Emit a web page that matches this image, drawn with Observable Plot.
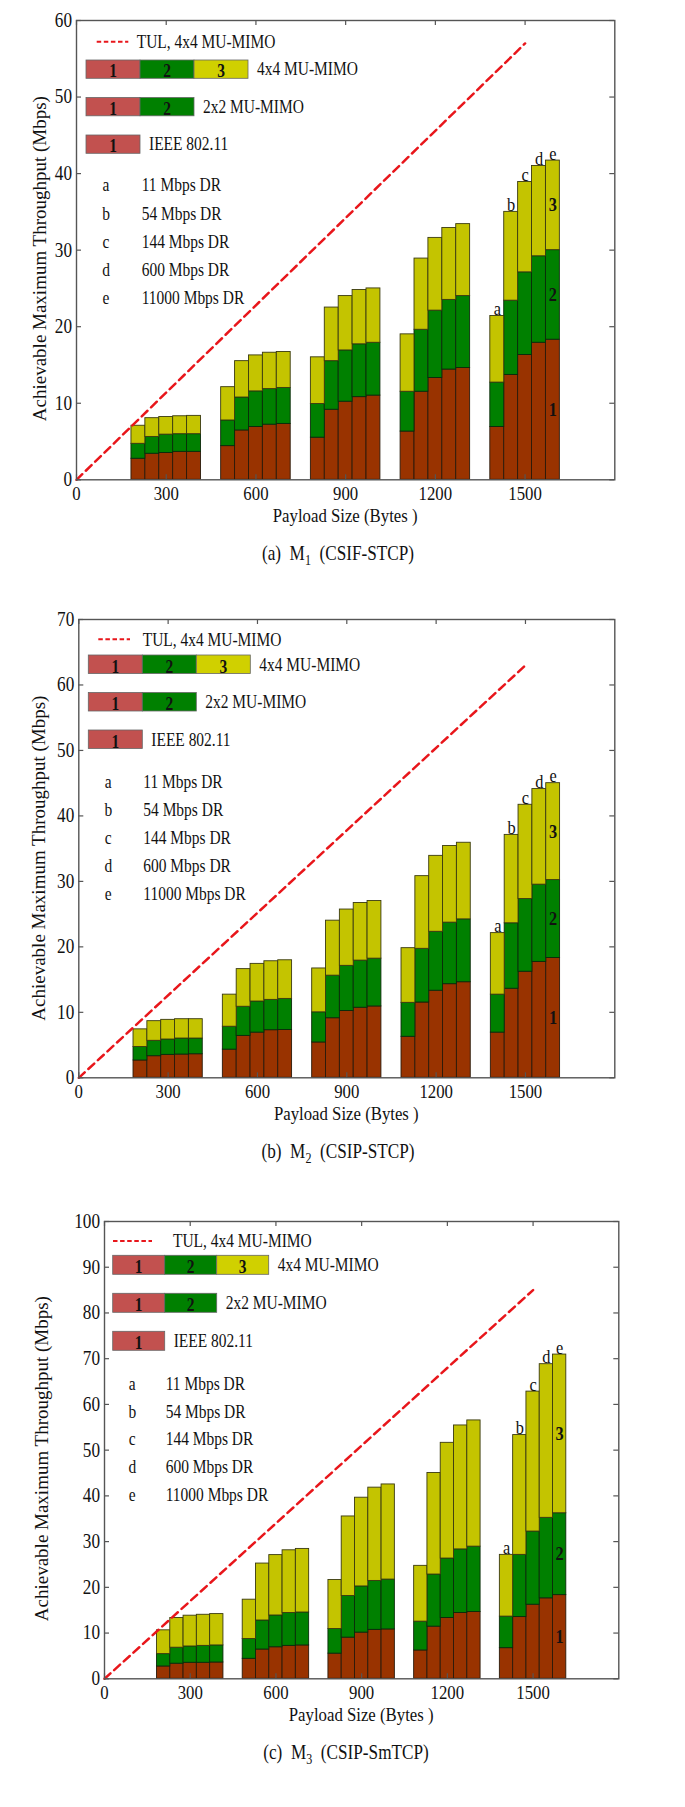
<!DOCTYPE html>
<html><head><meta charset="utf-8">
<script src="https://cdn.jsdelivr.net/npm/d3@7"></script>
<script src="https://cdn.jsdelivr.net/npm/@observablehq/plot@0.6"></script>
<style>
body{margin:0;background:#fff;}
#wrap{position:relative;width:685px;height:1807px;background:#fff;overflow:hidden;}
#wrap svg{position:absolute;left:0;}
</style></head><body><div id="wrap"></div>
<script>
// ---------- data ----------
const payloads = [300, 600, 900, 1200, 1500];
const rates = ["a", "b", "c", "d", "e"];
const rateLabels = ["11 Mbps DR", "54 Mbps DR", "144 Mbps DR", "600 Mbps DR", "11000 Mbps DR"];
const xTicks = [0, 300, 600, 900, 1200, 1500];
const tulX = [0, 1500];
const legendNames = ["TUL, 4x4 MU-MIMO", "4x4 MU-MIMO", "2x2 MU-MIMO", "IEEE 802.11"];

// panel (a) M1 (CSIF-STCP): cumulative tops per payload group (rows) and data rate (columns)
const ieeeA  = [[2.75,3.4,3.5,3.65,3.65],[4.4,6.45,6.9,7.2,7.3],[5.5,9.15,10.2,10.8,11.0],[6.3,11.5,13.3,14.4,14.6],[6.9,13.7,16.3,17.9,18.3]];
const mimo2A = [[4.7,5.6,5.9,5.96,5.96],[7.75,10.75,11.55,11.85,12.0],[9.9,15.5,16.9,17.7,17.9],[11.5,19.6,22.1,23.5,24.0],[12.7,23.4,27.1,29.2,30.0]];
const mimo4A = [[7.06,8.05,8.2,8.3,8.35],[12.1,15.5,16.25,16.6,16.7],[16.0,22.5,24.0,24.8,25.0],[19.0,28.9,31.6,32.9,33.4],[21.4,35.0,38.9,41.0,41.7]];
const tulA = [0, 57];
const yTicksA = [0, 10, 20, 30, 40, 50, 60];

// panel (b) M2 (CSIP-STCP)
const ieeeB  = [[2.65,3.3,3.5,3.55,3.6],[4.3,6.4,6.9,7.27,7.3],[5.4,9.1,10.2,10.7,10.9],[6.26,11.5,13.3,14.3,14.6],[6.9,13.6,16.2,17.7,18.3]];
const mimo2B = [[4.7,5.65,5.85,6.0,6.0],[7.8,10.85,11.65,11.9,12.05],[10.0,15.6,17.1,17.9,18.2],[11.45,19.7,22.3,23.7,24.2],[12.7,23.6,27.3,29.5,30.2]];
const mimo4B = [[7.4,8.65,8.85,8.95,8.95],[12.7,16.6,17.4,17.8,17.95],[16.7,24.0,25.7,26.7,27.0],[19.8,30.8,33.9,35.4,35.9],[22.1,37.1,41.7,44.1,45.0]];
const tulB = [0, 63];
const yTicksB = [0, 10, 20, 30, 40, 50, 60, 70];

// panel (c) M3 (CSIP-SmTCP)
const ieeeC  = [[2.7,3.3,3.5,3.5,3.57],[4.37,6.4,6.9,7.2,7.3],[5.5,9.0,10.1,10.7,10.8],[6.2,11.4,13.3,14.4,14.6],[6.7,13.5,16.2,17.6,18.3]];
const mimo2C = [[5.4,6.8,7.07,7.2,7.3],[8.7,12.75,13.85,14.4,14.5],[10.9,18.1,20.2,21.4,21.7],[12.5,22.8,26.3,28.3,28.9],[13.6,27.1,32.2,35.2,36.2]];
const mimo4C = [[10.6,13.3,13.8,14.0,14.15],[17.3,25.2,27.05,28.1,28.4],[21.6,35.5,39.6,41.8,42.5],[24.7,45.0,51.6,55.4,56.5],[27.1,53.3,62.8,68.8,70.9]];
const tulC = [0, 85];
const yTicksC = [0, 10, 20, 30, 40, 50, 60, 70, 80, 90, 100];

// ---------- style ----------
const FONT = '"Liberation Serif", "DejaVu Serif", serif';
const SQ = 0.86;           // horizontal squish of the reference's lettering
const BW = 46.5;           // bar width in payload units
const C = {bar1:"#993300", bar2:"#008000", bar3:"#c4c400", leg1:"#c2514f", leg2:"#008000", leg3:"#d0d000", tul:"#e8161b", axis:"#555"};

const panels = [
  {ieee: ieeeA, m2: mimo2A, m4: mimo4A, tul: tulA, yMax: 60, yTicks: yTicksA, top: 0, ml: 76, mr: 70.7, fh: 459.3,
   cap: ["(a)", "1", "(CSIF-STCP)"], capX: 338, ylx: 46, yly: 9,
   leg: {dashY: 21.7, dashX: [20.7, 52.3], tulTx: 60.7, boxTop: 40, boxH: 18.3, step: 37.5, seg: 54, x0: 10, letY: 165, letStep: 28.2, letX: 30, letTx: 65.7}},
  {ieee: ieeeB, m2: mimo2B, m4: mimo4B, tul: tulB, yMax: 70, yTicks: yTicksB, top: 599, ml: 78.3, mr: 70.7, fh: 458.3,
   cap: ["(b)", "2", "(CSIP-STCP)"], capX: 338, ylx: 45, yly: 10,
   leg: {dashY: 20.3, dashX: [20, 51.7], tulTx: 64.4, boxTop: 36, boxH: 18.5, step: 37.5, seg: 54, x0: 10, letY: 162.7, letStep: 27.9, letX: 30, letTx: 65}},
  {ieee: ieeeC, m2: mimo2C, m4: mimo4C, tul: tulC, yMax: 100, yTicks: yTicksC, top: 1201, ml: 104, mr: 66.7, fh: 457.3,
   cap: ["(c)", "3", "(CSIP-SmTCP)"], capX: 346, ylx: 48, yly: 9,
   leg: {dashY: 20, dashX: [9, 48], tulTx: 69, boxTop: 34.3, boxH: 19, step: 38, seg: 52, x0: 8.7, letY: 162.3, letStep: 27.9, letX: 28.3, letTx: 61.7}}
];

// compress glyphs horizontally (the reference lettering is narrow) without moving the anchor
function squish(el, k) {
  const w = el.getComputedTextLength();
  if (w > 0) {
    el.setAttribute("textLength", (w * k).toFixed(2));
    el.setAttribute("lengthAdjust", "spacingAndGlyphs");
  }
}

const wrap = document.getElementById("wrap");

panels.forEach(p => {
  const rows = [];
  payloads.forEach((pl, g) => rates.forEach((r, i) => {
    const x1 = pl + (i - 2.5) * BW, x2 = x1 + BW;
    rows.push({x1, x2, y1: 0, y2: p.ieee[g][i], layer: 1});
    rows.push({x1, x2, y1: p.ieee[g][i], y2: p.m2[g][i], layer: 2});
    rows.push({x1, x2, y1: p.m2[g][i], y2: p.m4[g][i], layer: 3});
  }));
  const last = payloads.length - 1;
  const rateRows = rates.map((r, i) => ({x: payloads[last] + (i - 2) * BW, y: p.m4[last][i], t: r}));
  const ie = p.ieee[last][4], m2 = p.m2[last][4], m4 = p.m4[last][4];
  const xe = payloads[last] + 2 * BW;
  const segRows = [{x: xe, y: ie / 2, t: "1"}, {x: xe, y: (ie + m2) / 2, t: "2"}, {x: xe, y: (m2 + m4) / 2, t: "3"}];
  const tulRows = tulX.map((x, i) => ({x, y: p.tul[i]}));
  const fw = 685 - p.ml - p.mr;
  const mt = 20, mb = 110;

  const svgEl = Plot.plot({
    width: 685, height: mt + p.fh + mb,
    marginTop: mt, marginBottom: mb, marginLeft: p.ml, marginRight: p.mr,
    x: {domain: [0, 1800]}, y: {domain: [0, p.yMax]},
    style: {fontFamily: FONT, fontSize: "19px", background: "transparent", overflow: "visible", color: "#111"},
    marks: [
      Plot.rect(rows.filter(d => d.layer === 1), {x1: "x1", x2: "x2", y1: "y1", y2: "y2", fill: C.bar1, stroke: "#2a1a0a", strokeWidth: 0.9}),
      Plot.rect(rows.filter(d => d.layer === 2), {x1: "x1", x2: "x2", y1: "y1", y2: "y2", fill: C.bar2, stroke: "#0a2a0a", strokeWidth: 0.9}),
      Plot.rect(rows.filter(d => d.layer === 3), {x1: "x1", x2: "x2", y1: "y1", y2: "y2", fill: C.bar3, stroke: "#3a3a10", strokeWidth: 0.9}),
      Plot.line(tulRows, {x: "x", y: "y", stroke: C.tul, strokeWidth: 2.5, strokeDasharray: "8,5"}),
      Plot.text(rateRows, {x: "x", y: "y", text: "t", lineAnchor: "bottom", dy: -1, fontSize: 19, fill: "#111"}),
      Plot.text(segRows, {x: "x", y: "y", text: "t", fontWeight: "bold", fontSize: 19, fill: "#111"}),
      Plot.frame({stroke: C.axis, strokeWidth: 1.4}),
      Plot.ruleX(xTicks, {insetTop: p.fh - 5, stroke: C.axis, strokeWidth: 1.2}),
      Plot.ruleX(xTicks, {insetBottom: p.fh - 5, stroke: C.axis, strokeWidth: 1.2}),
      Plot.ruleY(p.yTicks, {insetRight: fw - 5, stroke: C.axis, strokeWidth: 1.2}),
      Plot.ruleY(p.yTicks, {insetLeft: fw - 5, stroke: C.axis, strokeWidth: 1.2}),
      Plot.axisX(xTicks, {tickSize: 0, tickPadding: 6.5, label: null, tickFormat: d => String(d), fill: "#111", fontSize: 19.5}),
      Plot.axisY(p.yTicks, {tickSize: 0, tickPadding: 4.5, label: null, tickFormat: d => String(d), fill: "#111", fontSize: 20})
    ]
  });
  svgEl.style.top = p.top + "px";
  wrap.appendChild(svgEl);
  svgEl.querySelectorAll("text").forEach(t => squish(t, SQ));

  const svg = d3.select(svgEl);
  const L = p.ml, T = mt, B = mt + p.fh, lg = p.leg;
  const g = svg.append("g").attr("font-family", FONT).attr("fill", "#111").attr("text-anchor", "start");
  // own texts: squished by a transform about their anchor point
  const txt = (x, y, s, size, extra) => {
    const t = g.append("text").attr("transform", `translate(${x},${y}) scale(${SQ},1)`)
      .attr("dy", "0.35em").attr("font-size", size).attr("text-anchor", "start").text(s);
    if (extra) extra(t);
    return t;
  };

  // legend: dashed line
  g.append("line").attr("x1", L + lg.dashX[0]).attr("x2", L + lg.dashX[1]).attr("y1", T + lg.dashY).attr("y2", T + lg.dashY)
    .attr("stroke", C.tul).attr("stroke-width", 2).attr("stroke-dasharray", "4.5,2.6");
  txt(L + lg.tulTx, T + lg.dashY, legendNames[0], 18);
  // legend: stacked boxes
  const segFills = [C.leg1, C.leg2, C.leg3];
  [3, 2, 1].forEach((n, r) => {
    const y0 = T + lg.boxTop + r * lg.step;
    for (let s = 0; s < n; s++) {
      const x0 = L + lg.x0 + s * lg.seg;
      g.append("rect").attr("x", x0).attr("y", y0).attr("width", lg.seg).attr("height", lg.boxH)
        .attr("fill", segFills[s]).attr("stroke", "#666").attr("stroke-width", 0.8);
      txt(x0 + lg.seg / 2, y0 + lg.boxH / 2 + 2, String(s + 1), 18, t => t.attr("text-anchor", "middle").attr("font-weight", "bold"));
    }
    txt(L + lg.x0 + n * lg.seg + 9, y0 + lg.boxH / 2, legendNames[r + 1], 18);
  });
  // legend: data-rate letters
  rates.forEach((r, i) => {
    const y = T + lg.letY + i * lg.letStep;
    txt(L + lg.letX, y, r, 18, t => t.attr("text-anchor", "middle"));
    txt(L + lg.letTx, y, rateLabels[i], 18);
  });

  // x label
  txt(L + fw / 2, B + 36, "Payload Size (Bytes )", 19.5, t => t.attr("text-anchor", "middle"));
  // caption
  const cap = g.append("text").attr("transform", `translate(${p.capX},${B + 74}) scale(${SQ},1)`)
    .attr("dy", "0.35em").attr("font-size", 20).attr("text-anchor", "middle").style("white-space", "pre");
  cap.append("tspan").text(p.cap[0] + "  M");
  cap.append("tspan").attr("dy", 5).attr("font-size", 14).text(p.cap[1]);
  cap.append("tspan").attr("dy", -5).text("  " + p.cap[2]);
  // y label (rotated)
  g.append("text").attr("transform", `translate(${p.ylx},${T + p.fh / 2 + p.yly}) rotate(-90)`)
    .attr("text-anchor", "middle").attr("font-size", 19).text("Achievable Maximum Throughput (Mbps)");
});
</script></body></html>
